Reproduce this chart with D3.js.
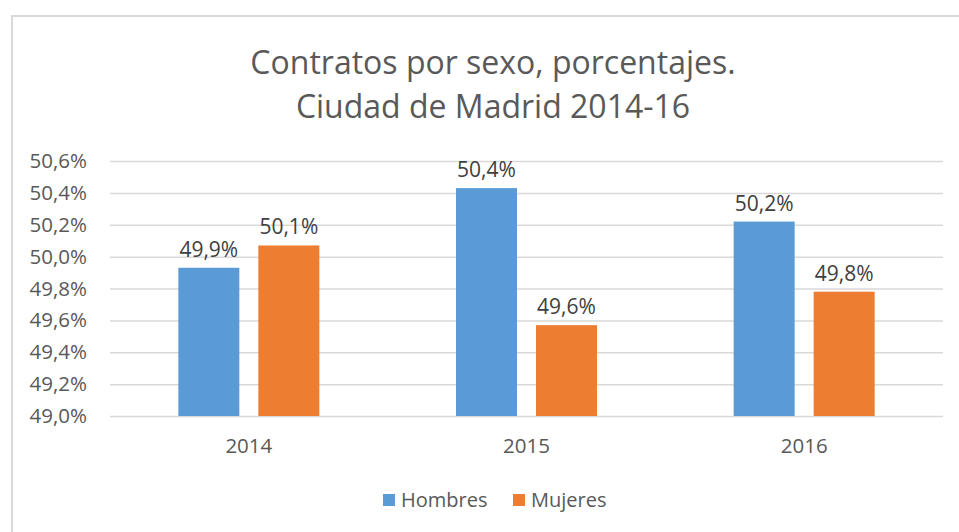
<!DOCTYPE html>
<html>
<head>
<meta charset="utf-8">
<script src="https://cdn.jsdelivr.net/npm/d3@7"></script>
<style>
  body { margin: 0; background: #fff; }
  svg { display: block; font-family: "Open Sans", "Noto Sans", sans-serif; }
</style>
</head>
<body>
<svg id="chart"></svg>
<script>
// Data
let years = ['2014', '2015', '2016']
let series = ['Hombres', 'Mujeres']
let hombres = [49.93, 50.43, 50.22]
let mujeres = [50.07, 49.57, 49.78]
let labelsHombres = ['49,9%', '50,4%', '50,2%']
let labelsMujeres = ['50,1%', '49,6%', '49,8%']
let yTicks = [49.0, 49.2, 49.4, 49.6, 49.8, 50.0, 50.2, 50.4, 50.6]
let titleLines = ['Contratos por sexo, porcentajes.', 'Ciudad de Madrid 2014-16']
let colors = ['#5B9BD5', '#ED7D31']

let width = 959
let height = 532
let plot = { left: 110, right: 943, top: 161, bottom: 416 }

let svg = d3.select('#chart')
    .attr('width', width)
    .attr('height', height)

// Frame
svg.append('rect')
    .attr('x', 12)
    .attr('y', 16)
    .attr('width', width + 20)
    .attr('height', height)
    .attr('fill', '#fff')
    .attr('stroke', '#d9d9d9')
    .attr('stroke-width', 2)

// Title
svg.append('g').selectAll('text')
    .data(titleLines)
    .enter()
    .append('text')
    .attr('x', 493)
    .attr('y', (d, i) => 74 + i * 44)
    .attr('text-anchor', 'middle')
    .attr('fill', '#595959')
    .style('font-size', '32px')
    .text(d => d)

// Scales
let scale = {
    x: d3.scaleBand().domain(years).range([plot.left, plot.right]).paddingInner(0).paddingOuter(0),
    y: d3.scaleLinear().domain([49.0, 50.6]).range([plot.bottom, plot.top])
}
let sub = d3.scaleBand().domain(series).range([0, scale.x.bandwidth()]).paddingInner(0.2375).paddingOuter(0.854)

// Grid
svg.append('g')
    .attr('transform', `translate(${plot.left},0)`)
    .call(d3.axisLeft(scale.y).tickValues(yTicks).tickFormat('').tickSize(-(plot.right - plot.left)))
    .call(g => g.select('.domain').remove())
    .call(g => g.selectAll('line').attr('stroke', '#d9d9d9').attr('stroke-width', 1.5))

// Y axis labels
svg.append('g')
    .attr('transform', `translate(87,0)`)
    .call(d3.axisLeft(scale.y).tickValues(yTicks).tickSize(0).tickPadding(0)
        .tickFormat(d => d.toFixed(1).replace('.', ',') + '%'))
    .call(g => g.select('.domain').remove())
    .call(g => g.selectAll('text').attr('fill', '#595959').style('font-size', '20.5px')
        .style('font-family', '"Open Sans", sans-serif'))

// X axis labels
svg.append('g')
    .attr('transform', `translate(0,${plot.bottom})`)
    .call(d3.axisBottom(scale.x).tickSize(0).tickPadding(22))
    .call(g => g.select('.domain').remove())
    .call(g => g.selectAll('text').attr('fill', '#595959').style('font-size', '20.5px')
        .style('font-family', '"Open Sans", sans-serif'))

// Bars
let rows = years.map((y, i) => ({
    year: y,
    values: [
        { key: series[0], value: hombres[i], label: labelsHombres[i] },
        { key: series[1], value: mujeres[i], label: labelsMujeres[i] }
    ]
}))

let groups = svg.append('g').selectAll('g')
    .data(rows)
    .enter()
    .append('g')
    .attr('transform', d => `translate(${scale.x(d.year)},0)`)

groups.selectAll('rect')
    .data(d => d.values)
    .enter()
    .append('rect')
    .attr('x', d => sub(d.key))
    .attr('y', d => scale.y(d.value))
    .attr('width', sub.bandwidth())
    .attr('height', d => plot.bottom - scale.y(d.value))
    .attr('fill', (d, i) => colors[i])

// Data labels
groups.selectAll('text')
    .data(d => d.values)
    .enter()
    .append('text')
    .attr('x', d => sub(d.key) + sub.bandwidth() / 2)
    .attr('y', d => scale.y(d.value) - 11)
    .attr('text-anchor', 'middle')
    .attr('fill', '#404040')
    .style('font-size', '21px')
    .text(d => d.label)

// Legend
let legendX = [383, 513]
let legend = svg.append('g').selectAll('g')
    .data(series)
    .enter()
    .append('g')
    .attr('transform', (d, i) => `translate(${legendX[i]},494)`)

legend.append('rect')
    .attr('width', 12)
    .attr('height', 12)
    .attr('fill', (d, i) => colors[i])

legend.append('text')
    .attr('x', 18)
    .attr('y', 13)
    .attr('fill', '#595959')
    .style('font-size', '20px')
    .text(d => d)
</script>
</body>
</html>
